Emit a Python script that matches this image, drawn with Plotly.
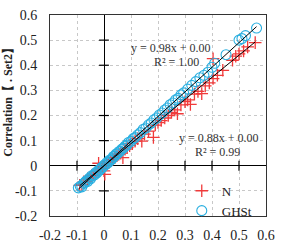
import plotly.graph_objects as go

# GHSt points (x, y)
ghst_x = [-0.095, -0.088, -0.082, -0.075, -0.07, -0.066, -0.06, -0.055, -0.05, -0.046,
          -0.04, -0.035, -0.03, -0.026, -0.02, -0.015, -0.01, -0.005, 0.0, 0.005,
          0.01, 0.015, 0.02, 0.025, 0.03, 0.035, 0.04, 0.045, 0.05, 0.055,
          0.06, 0.066, 0.072, 0.078, 0.085, 0.09, 0.1, 0.108, 0.115, 0.125,
          0.135, 0.145, 0.155, 0.165, 0.175, 0.185, 0.195, 0.205, 0.215, 0.225,
          0.235, 0.245, 0.255, 0.265, 0.275, 0.285, 0.295, 0.31, 0.325, 0.34,
          0.355, 0.37, 0.385, 0.4, 0.41, 0.452, 0.5, 0.511, 0.524, 0.565]
ghst_y = [-0.088, -0.082, -0.084, -0.07, -0.066, -0.06, -0.062, -0.05, -0.052, -0.04,
          -0.038, -0.036, -0.027, -0.028, -0.018, -0.016, -0.008, -0.006, 0.002, 0.004,
          0.012, 0.012, 0.022, 0.023, 0.028, 0.037, 0.038, 0.047, 0.048, 0.056,
          0.058, 0.066, 0.07, 0.078, 0.082, 0.092, 0.097, 0.108, 0.112, 0.123,
          0.132, 0.145, 0.15, 0.163, 0.17, 0.183, 0.19, 0.202, 0.21, 0.222,
          0.23, 0.243, 0.25, 0.262, 0.268, 0.282, 0.29, 0.305, 0.32, 0.335,
          0.35, 0.36, 0.372, 0.392, 0.408, 0.442, 0.5, 0.506, 0.518, 0.548]

# N points (x, y)
n_x = [-0.09, -0.082, -0.075, -0.068, -0.06, -0.052, -0.045, -0.038, -0.03, -0.022,
       -0.02, -0.014, -0.006, 0.0, 0.003, 0.01, 0.018, 0.025, 0.032, 0.04,
       0.048, 0.055, 0.062, 0.07, 0.078, 0.086, 0.095, 0.105, 0.115, 0.125,
       0.14, 0.15, 0.165, 0.183, 0.19, 0.2, 0.212, 0.225, 0.238, 0.25,
       0.262, 0.272, 0.285, 0.3, 0.31, 0.32, 0.335, 0.348, 0.362, 0.375,
       0.39, 0.404, 0.404, 0.42, 0.44, 0.476, 0.488, 0.5, 0.517, 0.532, 0.56]
n_y = [-0.078, -0.074, -0.064, -0.062, -0.052, -0.048, -0.038, -0.036, -0.024, -0.022,
       0.01, -0.012, -0.004, -0.02, -0.034, 0.008, 0.012, 0.02, 0.024, 0.032,
       0.04, 0.046, 0.05, 0.032, 0.066, 0.072, 0.08, 0.088, 0.098, 0.108,
       0.098, 0.126, 0.138, 0.113, 0.162, 0.172, 0.18, 0.19, 0.2, 0.212,
       0.222, 0.207, 0.242, 0.255, 0.262, 0.244, 0.285, 0.296, 0.287, 0.318,
       0.33, 0.347, 0.426, 0.36, 0.38, 0.42, 0.436, 0.445, 0.457, 0.473, 0.49]

# regression fits
fit_ghst = {"slope": 0.98, "x": [-0.095, 0.565]}
fit_n = {"slope": 0.88, "x": [-0.09, 0.56]}

ticks = [-0.2, -0.1, 0.0, 0.1, 0.2, 0.3, 0.4, 0.5, 0.6]
tick_text = ["-0.2", "-0.1", "0", "0.1", "0.2", "0.3", "0.4", "0.5", "0.6"]

RED = "#F03A3A"
CYAN = "#2AAFE0"
FONT = "Liberation Serif"

fig = go.Figure()

inner = [t for t in ticks if t not in (-0.2, 0.6)]
# tick marks along zero lines
fig.add_trace(go.Scatter(x=inner, y=[0] * len(inner),
                         mode="markers", marker=dict(symbol="line-ns", size=7, color="black",
                         line=dict(color="black", width=1.2)),
                         showlegend=False, hoverinfo="skip"))
fig.add_trace(go.Scatter(x=[0] * len(inner), y=inner,
                         mode="markers", marker=dict(symbol="line-ew", size=7, color="black",
                         line=dict(color="black", width=1.2)),
                         showlegend=False, hoverinfo="skip"))

fig.add_trace(go.Scatter(x=n_x, y=n_y, mode="markers", name="N",
                         marker=dict(symbol="cross-thin", size=9, color=RED,
                                     line=dict(color=RED, width=1.3))))
fig.add_trace(go.Scatter(x=ghst_x, y=ghst_y, mode="markers", name="GHSt",
                         marker=dict(symbol="circle-open", size=10, color=CYAN,
                                     line=dict(color=CYAN, width=1.1))))

for fit in (fit_ghst, fit_n):
    fig.add_trace(go.Scatter(x=fit["x"], y=[fit["slope"] * v for v in fit["x"]],
                             mode="lines", line=dict(color="black", width=1),
                             showlegend=False, hoverinfo="skip"))

axis_common = dict(range=[-0.2, 0.6], tickvals=ticks, ticktext=tick_text,
                   showgrid=True, gridcolor="#c8c8c8", griddash="dot", gridwidth=1,
                   zeroline=True, zerolinecolor="black", zerolinewidth=1.3,
                   showline=True, linecolor="#333333", linewidth=1, mirror=True,
                   ticks="", tickfont=dict(family=FONT, size=14, color="#222222"))

fig.update_xaxes(**axis_common, ticklabelstandoff=6)
fig.update_yaxes(**axis_common, ticklabelstandoff=9)

ann_font = dict(family=FONT, size=12, color="#333333")
fig.add_annotation(x=0.248, y=0.47, text="y = 0.98x + 0.00", showarrow=False, font=ann_font,
                   borderpad=0)
fig.add_annotation(x=0.27, y=0.412, text="R² = 1.00", showarrow=False, font=ann_font,
                   borderpad=0)
fig.add_annotation(x=0.425, y=0.11, text="y = 0.88x + 0.00", showarrow=False, font=ann_font,
                   borderpad=0)
fig.add_annotation(x=0.42, y=0.056, text="R² = 0.99", showarrow=False, font=ann_font,
                   borderpad=0)

fig.add_annotation(xref="paper", yref="paper", x=-0.193, y=0.58,
                   xanchor="center", yanchor="middle",
                   text="<b>Correlation【 . Set2】</b>", textangle=-90, showarrow=False,
                   font=dict(family=FONT, size=12, color="#222222"))

fig.update_layout(
    width=283, height=251,
    margin=dict(l=50, r=10, t=8, b=24),
    paper_bgcolor="white", plot_bgcolor="white",
    showlegend=True,
    legend=dict(x=0.61, y=0.2, xanchor="left", yanchor="top",
                bgcolor="rgba(0,0,0,0)", font=dict(family=FONT, size=13, color="#222222"),
                itemwidth=30, tracegroupgap=0),
)

fig.write_html("out.html")
